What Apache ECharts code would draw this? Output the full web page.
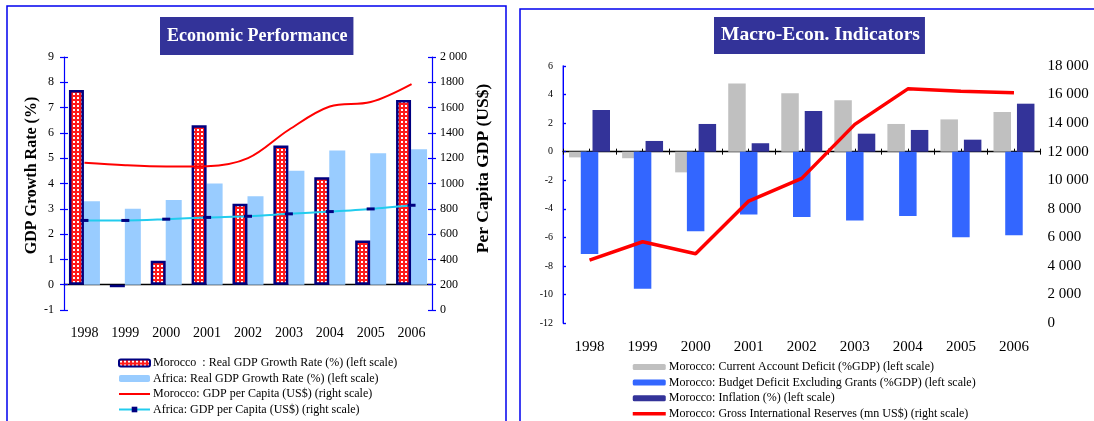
<!DOCTYPE html>
<html>
<head>
<meta charset="utf-8">
<script src="https://cdn.jsdelivr.net/npm/echarts@6/dist/echarts.min.js"></script>
<style>
  html, body { margin: 0; padding: 0; background: #fff; }
  #chart { width: 1094px; height: 421px; }
</style>
</head>
<body>
<div id="chart"></div>
<script>
// ---- data ----
const years = ['1998', '1999', '2000', '2001', '2002', '2003', '2004', '2005', '2006'];

// Economic Performance
const moroccoGrowth = [7.7, -0.1, 0.95, 6.3, 3.2, 5.5, 4.25, 1.75, 7.3];
const africaGrowth = [3.3, 3.0, 3.35, 4.0, 3.5, 4.5, 5.3, 5.2, 5.35];
const moroccoGdpPerCapita = [1165, 1145, 1135, 1137, 1200, 1425, 1609, 1644, 1786];
const africaGdpPerCapita = [708, 708, 718, 732, 741, 760, 778, 799, 828];

// Macro-Econ. Indicators
const currentAccount = [-0.4, -0.46, -1.45, 4.78, 4.1, 3.6, 1.94, 2.26, 2.78];
const budgetDeficit = [-7.17, -9.6, -5.57, -4.4, -4.57, -4.82, -4.5, -6.0, -5.85];
const inflation = [2.92, 0.75, 1.94, 0.59, 2.85, 1.26, 1.52, 0.84, 3.36];
const reserves = [4410, 5690, 4850, 8540, 10130, 13910, 16400, 16240, 16120];

const names1 = [
  'Morocco  : Real GDP Growth Rate (%) (left scale)',
  'Africa: Real GDP Growth Rate (%) (left scale)',
  'Morocco: GDP per Capita (US$) (right scale)',
  'Africa: GDP per Capita (US$) (right scale)'
];
const names2 = [
  'Morocco: Current Account Deficit (%GDP) (left scale)',
  'Morocco: Budget Deficit Excluding Grants (%GDP) (left scale)',
  'Morocco: Inflation (%) (left scale)',
  'Morocco: Gross International Reserves (mn US$) (right scale)'
];

// ---- helpers ----
const SERIF = "'Liberation Serif', 'Times New Roman', serif";
const AXIS_BLUE = '#0000ff';

function spaced(v) {
  return String(v).replace(/\B(?=(\d{3})+(?!\d))/g, ' ');
}

// red lattice with white holes for the Morocco growth bars
function hatchPattern() {
  const c = document.createElement('canvas');
  c.width = 4; c.height = 4;
  const g = c.getContext('2d');
  g.fillStyle = '#ff1a1a';
  g.fillRect(0, 0, 4, 4);
  g.fillStyle = '#ffffff';
  g.fillRect(1, 1, 2, 2);
  return { image: c, repeat: 'repeat' };
}

function valueAxis(extra) {
  return Object.assign({
    type: 'value',
    splitLine: { show: false },
    axisLine: { show: true, lineStyle: { color: AXIS_BLUE, width: 1.2 } },
    axisTick: { show: true, length: 4, lineStyle: { color: AXIS_BLUE, width: 1.2 } },
    axisLabel: { color: '#000', fontFamily: SERIF, fontSize: 12 }
  }, extra);
}

// twin axis drawn on the same side to give ticks that cross the axis line
function tickTwin(base) {
  return Object.assign({}, base, {
    name: '',
    axisLine: { show: false },
    axisLabel: { show: false },
    axisTick: { show: true, inside: true, length: 4, lineStyle: { color: AXIS_BLUE, width: 1.2 } }
  });
}

const nameStyle = { fontFamily: SERIF, fontWeight: 'bold', color: '#000' };

const y0 = valueAxis({
  gridIndex: 0, position: 'left', min: -1, max: 9, interval: 1,
  axisLabel: { color: '#000', fontFamily: SERIF, fontSize: 12, margin: 10 },
  name: 'GDP Growth Rate (%)', nameLocation: 'middle', nameGap: 24,
  nameTextStyle: Object.assign({ fontSize: 16, padding: [0, 0, 0, 16] }, nameStyle)
});
const y1 = valueAxis({
  gridIndex: 0, position: 'right', min: 0, max: 2000, interval: 200,
  axisLabel: {
    color: '#000', fontFamily: SERIF, fontSize: 12, margin: 8,
    formatter: v => (v >= 2000 ? spaced(v) : String(v))
  },
  name: 'Per Capita GDP (US$)', nameLocation: 'middle', nameGap: 42, nameRotate: 90,
  nameTextStyle: Object.assign({ fontSize: 17.5, padding: [0, 0, 0, 30] }, nameStyle)
});
const y4 = valueAxis({
  gridIndex: 1, position: 'left', min: -12, max: 6, interval: 2,
  axisLine: { show: true, lineStyle: { color: '#7070ff', width: 1.5 } },
  axisTick: { show: true, inside: true, length: 3, lineStyle: { color: AXIS_BLUE, width: 1.2 } },
  axisLabel: { color: '#000', fontFamily: SERIF, fontSize: 10, margin: 10 }
});
const y5 = valueAxis({
  gridIndex: 1, position: 'right', min: 0, max: 18000, interval: 2000,
  axisLine: { show: true, lineStyle: { color: AXIS_BLUE, width: 1 } },
  axisTick: { show: true, length: 3, lineStyle: { color: AXIS_BLUE, width: 1.2 } },
  axisLabel: { color: '#000', fontFamily: SERIF, fontSize: 15, margin: 7, formatter: v => spaced(v) }
});

const zeroTickAxis = inside => ({
  gridIndex: 1, type: 'value', min: 0, max: 9, interval: 0.5,
  axisLine: { show: !inside, onZero: true, onZeroAxisIndex: 4, lineStyle: { color: '#000', width: 1.3 } },
  axisTick: { show: true, inside: inside, length: 3, lineStyle: { color: '#000', width: 1 } },
  axisLabel: { show: false },
  splitLine: { show: false }
});

// legend entries for plain lines: hide the round marker in the icon
const lineOnly = (name, width) => ({ name: name, itemStyle: { opacity: 0 }, lineStyle: { width: width } });

const legendText = { fontFamily: SERIF, fontSize: 12, color: '#000', lineHeight: 12, padding: [0, 0, 0, -2] };

const chart = echarts.init(document.getElementById('chart'), null, { renderer: 'canvas' });

chart.setOption({
  animation: false,
  backgroundColor: '#ffffff',
  textStyle: { fontFamily: SERIF },
  graphic: [
    { type: 'rect', shape: { x: 7, y: 6, width: 499, height: 440 },
      style: { fill: 'none', stroke: '#0000ee', lineWidth: 1.5 }, silent: true },
    { type: 'rect', shape: { x: 520, y: 9, width: 600, height: 440 },
      style: { fill: 'none', stroke: '#0000ee', lineWidth: 1.5 }, silent: true }
  ],
  title: [
    {
      text: 'Economic Performance', left: 160, top: 17,
      padding: [10, 6, 10, 7], backgroundColor: '#333399',
      textStyle: { color: '#fff', fontFamily: SERIF, fontWeight: 'bold', fontSize: 18, lineHeight: 18 }
    },
    {
      text: 'Macro-Econ. Indicators', left: 714, top: 18,
      padding: [8, 5, 9, 7], backgroundColor: '#333399',
      textStyle: { color: '#fff', fontFamily: SERIF, fontWeight: 'bold', fontSize: 19.5, lineHeight: 18 }
    }
  ],
  legend: [
    {
      orient: 'vertical', left: 118, top: 357, padding: 0,
      itemWidth: 31, itemHeight: 7, itemGap: 3.5,
      data: [names1[0], names1[1], lineOnly(names1[2], 2), names1[3]],
      textStyle: legendText
    },
    {
      orient: 'vertical', left: 631, top: 361, padding: 0,
      itemWidth: 33, itemHeight: 6, itemGap: 3.6,
      data: [names2[0], names2[1], names2[2], lineOnly(names2[3], 3.5)],
      textStyle: legendText
    }
  ],
  grid: [
    { left: 64, top: 57, width: 368, height: 253, containLabel: false },
    { left: 563, top: 66, width: 477.5, height: 257, containLabel: false }
  ],
  xAxis: [
    {
      gridIndex: 0, type: 'category', data: years, position: 'bottom',
      axisLine: { show: false, onZero: false }, axisTick: { show: false },
      axisLabel: { color: '#000', fontFamily: SERIF, fontSize: 14, margin: 16 }
    },
    {
      gridIndex: 0, type: 'category', data: years,
      axisLine: { show: true, onZero: true, onZeroAxisIndex: 0, lineStyle: { color: '#000', width: 1.3 } },
      axisTick: { show: false }, axisLabel: { show: false }
    },
    {
      gridIndex: 1, type: 'category', data: years, position: 'bottom',
      axisLine: { show: false, onZero: false }, axisTick: { show: false },
      axisLabel: { color: '#000', fontFamily: SERIF, fontSize: 15, margin: 17 }
    },
    zeroTickAxis(false),
    zeroTickAxis(true)
  ],
  yAxis: [y0, y1, tickTwin(y0), tickTwin(y1), y4, y5],
  series: [
    {
      name: names1[0], type: 'bar', xAxisIndex: 0, yAxisIndex: 0, z: 3,
      data: moroccoGrowth, barWidth: 15, barGap: '0%', barCategoryGap: '20%',
      itemStyle: { color: hatchPattern(), borderColor: '#000080', borderWidth: 2.5 }
    },
    {
      name: names1[1], type: 'bar', xAxisIndex: 0, yAxisIndex: 0,
      data: africaGrowth, barWidth: 16, barGap: '0%',
      itemStyle: { color: '#99ccff' }
    },
    {
      name: names1[2], type: 'line', xAxisIndex: 0, yAxisIndex: 1,
      data: moroccoGdpPerCapita, smooth: 0.35, symbol: 'none',
      lineStyle: { color: '#ff0000', width: 2 }, itemStyle: { color: '#ff0000' }, z: 5
    },
    {
      name: names1[3], type: 'line', xAxisIndex: 0, yAxisIndex: 1,
      data: africaGdpPerCapita, smooth: 0.3, symbol: 'rect', symbolSize: [8, 3],
      lineStyle: { color: '#22ccee', width: 2 }, itemStyle: { color: '#000080' }, z: 5
    },
    {
      name: names2[0], type: 'bar', xAxisIndex: 2, yAxisIndex: 4,
      data: currentAccount, barWidth: 17.5, barGap: '-33%',
      itemStyle: { color: '#c0c0c0' }
    },
    {
      name: names2[1], type: 'bar', xAxisIndex: 2, yAxisIndex: 4,
      data: budgetDeficit, barWidth: 17.5, barGap: '-33%',
      itemStyle: { color: '#3366ff' }
    },
    {
      name: names2[2], type: 'bar', xAxisIndex: 2, yAxisIndex: 4,
      data: inflation, barWidth: 17.5, barGap: '-33%',
      itemStyle: { color: '#333399' }
    },
    {
      name: names2[3], type: 'line', xAxisIndex: 2, yAxisIndex: 5,
      data: reserves, symbol: 'none',
      lineStyle: { color: '#ff0000', width: 3.5 }, itemStyle: { color: '#ff0000' }, z: 5
    }
  ]
});
</script>
</body>
</html>
